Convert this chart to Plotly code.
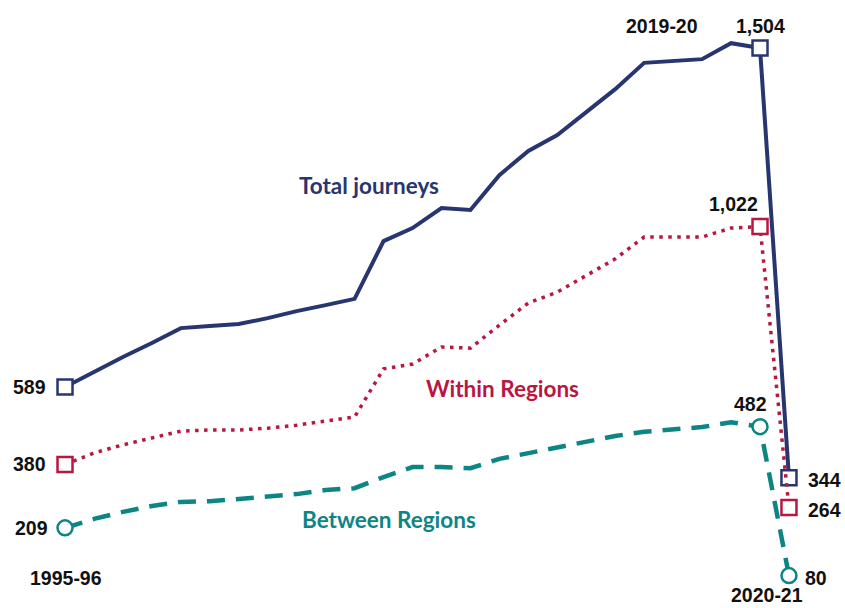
import plotly.graph_objects as go

years = ["1995-96", "1996-97", "1997-98", "1998-99", "1999-00", "2000-01",
         "2001-02", "2002-03", "2003-04", "2004-05", "2005-06", "2006-07",
         "2007-08", "2008-09", "2009-10", "2010-11", "2011-12", "2012-13",
         "2013-14", "2014-15", "2015-16", "2016-17", "2017-18", "2018-19",
         "2019-20", "2020-21"]

total = [589, 630, 670, 708, 748, 754, 759, 775, 794, 810, 827, 983, 1018,
         1072, 1067, 1161, 1226, 1269, 1331, 1393, 1464, 1469, 1474, 1517,
         1504, 344]
within = [380, 411, 433, 451, 470, 473, 473, 478, 486, 497, 508, 638, 651,
          697, 694, 756, 816, 845, 889, 935, 994, 994, 994, 1018, 1022, 264]
between = [209, 233, 252, 268, 279, 281, 287, 292, 300, 311, 316, 346, 373,
           373, 370, 395, 411, 427, 443, 457, 468, 473, 481, 494, 482, 80]

NAVY = "#283670"
CRIMSON = "#B8173F"
TEAL = "#0E8585"

series = [
    ("Total journeys", total, NAVY, "solid", 4, "square"),
    ("Within Regions", within, CRIMSON, "3.5px,5.5px", 3.5, "square"),
    ("Between Regions", between, TEAL, "18px,11px", 4.5, "circle"),
]

fig = go.Figure()
for name, vals, color, dash, width, symbol in series:
    fig.add_trace(go.Scatter(
        x=years, y=vals, mode="lines", name=name,
        line=dict(color=color, width=width, dash=dash),
        cliponaxis=False, hoverinfo="skip",
    ))
    # white-filled markers on the first and the last two years
    idx = [0, len(years) - 2, len(years) - 1]
    fig.add_trace(go.Scatter(
        x=[years[i] for i in idx], y=[vals[i] for i in idx], mode="markers",
        marker=dict(symbol=symbol, size=15, color="white",
                    line=dict(width=2.5, color=color)),
        cliponaxis=False, hoverinfo="skip", showlegend=False,
    ))

num_font = dict(family="Liberation Sans, Arial, sans-serif", size=19.5,
                color="#111111")
annotations = []


def value_label(x, y, text, xanchor="center", yanchor="middle",
                xshift=0, yshift=0):
    annotations.append(dict(
        x=x, y=y, xref="x", yref="y", text="<b>%s</b>" % text,
        showarrow=False, font=num_font, xanchor=xanchor, yanchor=yanchor,
        xshift=xshift, yshift=yshift))


first, peak, last = years[0], years[-2], years[-1]
value_label(first, total[0], f"{total[0]:,}", xanchor="right", xshift=-17)
value_label(first, within[0], f"{within[0]:,}", xanchor="right", xshift=-17)
value_label(first, between[0], f"{between[0]:,}", xanchor="right", xshift=-15)
value_label(peak, total[-2], f"{total[-2]:,}", yanchor="bottom", yshift=9)
value_label(peak, within[-2], f"{within[-2]:,}", yanchor="bottom",
            xshift=-27, yshift=10)
value_label(peak, between[-2], f"{between[-2]:,}", yanchor="bottom",
            xshift=-10, yshift=10)
value_label(last, total[-1], f"{total[-1]:,}", xanchor="left", xshift=17,
            yshift=-2)
value_label(last, within[-1], f"{within[-1]:,}", xanchor="left", xshift=17,
            yshift=-3)
value_label(last, between[-1], f"{between[-1]:,}", xanchor="left", xshift=14,
            yshift=-2)

# year labels
value_label(first, between[0], first, yanchor="top", xshift=1, yshift=-37)
value_label(peak, total[-2], peak, yanchor="bottom", xshift=-98, yshift=9)
value_label(last, between[-1], last, yanchor="top", xshift=-22, yshift=-6)

# series names placed beside their lines
name_font = "Lato, Carlito, Calibri, sans-serif"
for text, x, y, color in [("Total journeys", 10.5, 1133, NAVY),
                          ("Within Regions", 15.1, 586, CRIMSON),
                          ("Between Regions", 11.2, 231, TEAL)]:
    annotations.append(dict(
        x=x, y=y, xref="x", yref="y", text="<b>%s</b>" % text,
        showarrow=False, font=dict(family=name_font, size=22.5, color=color),
        xanchor="center", yanchor="middle"))

fig.update_layout(
    width=845, height=608,
    margin=dict(l=0, r=0, t=0, b=0),
    paper_bgcolor="white", plot_bgcolor="white",
    showlegend=False,
    annotations=annotations,
    xaxis=dict(type="category", range=[-2.245, 26.935], visible=False,
               fixedrange=True),
    yaxis=dict(range=[-7.4, 1633.6], visible=False, fixedrange=True),
)

fig.write_html("out.html")
